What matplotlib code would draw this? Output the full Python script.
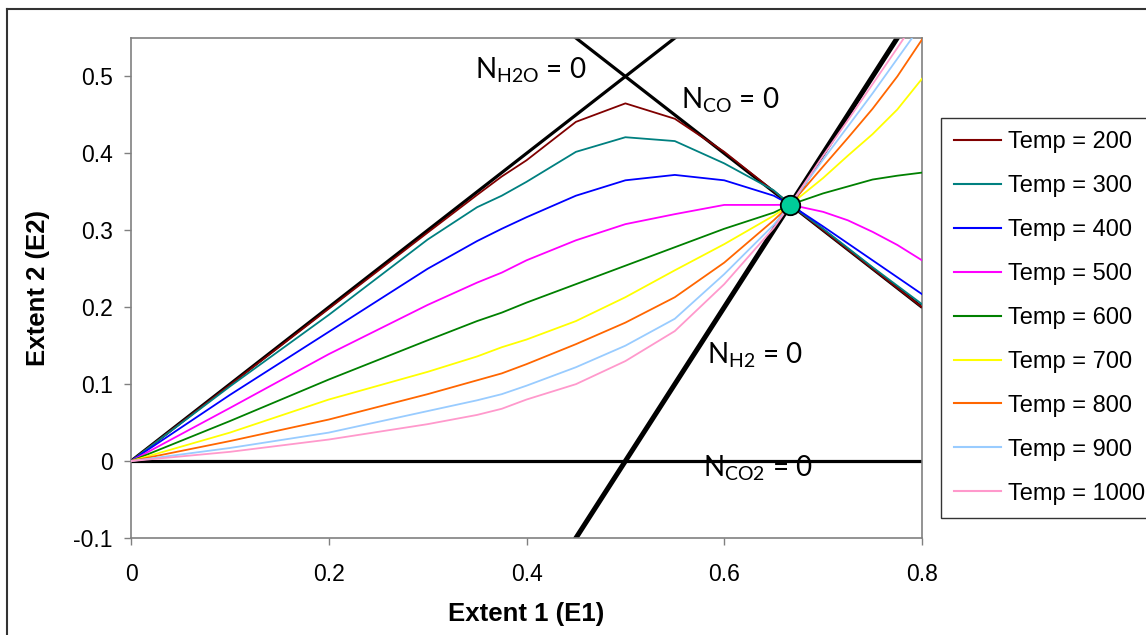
import numpy as np
import matplotlib
matplotlib.use('Agg')
import matplotlib.pyplot as plt
from matplotlib.lines import Line2D

plt.rcParams['font.family'] = ['Liberation Sans', 'DejaVu Sans']
plt.rcParams['mathtext.default'] = 'regular'

# extent 1 grid (E1)
e1 = [0, 0.1, 0.2, 0.3, 0.35, 0.375, 0.4, 0.45, 0.5, 0.55, 0.6, 0.65, 0.6667,
      0.7, 0.725, 0.75, 0.775, 0.8]

# extent 2 (E2) at each temperature
e2_200 = [0, 0.099, 0.198, 0.297, 0.346, 0.370, 0.391, 0.441, 0.465, 0.445, 0.402,
          0.351, 0.3333, 0.300, 0.275, 0.250, 0.225, 0.200]
e2_300 = [0, 0.097, 0.190, 0.288, 0.330, 0.345, 0.363, 0.402, 0.421, 0.416, 0.387,
          0.352, 0.3333, 0.302, 0.277, 0.252, 0.228, 0.204]
e2_400 = [0, 0.086, 0.168, 0.250, 0.286, 0.302, 0.317, 0.345, 0.365, 0.372, 0.365,
          0.345, 0.3333, 0.305, 0.283, 0.261, 0.239, 0.217]
e2_500 = [0, 0.069, 0.139, 0.203, 0.232, 0.245, 0.261, 0.287, 0.308, 0.321, 0.333,
          0.333, 0.3333, 0.324, 0.313, 0.298, 0.281, 0.261]
e2_600 = [0, 0.052, 0.106, 0.157, 0.182, 0.193, 0.206, 0.230, 0.254, 0.278, 0.302,
          0.323, 0.3333, 0.348, 0.357, 0.366, 0.371, 0.375]
e2_700 = [0, 0.037, 0.080, 0.116, 0.136, 0.148, 0.158, 0.182, 0.213, 0.248, 0.282,
          0.319, 0.3333, 0.368, 0.397, 0.425, 0.457, 0.497]
e2_800 = [0, 0.026, 0.054, 0.087, 0.105, 0.114, 0.126, 0.152, 0.180, 0.213, 0.258,
          0.313, 0.3333, 0.383, 0.420, 0.458, 0.500, 0.548]
e2_900 = [0, 0.017, 0.037, 0.065, 0.079, 0.087, 0.098, 0.122, 0.150, 0.185, 0.243,
          0.307, 0.3333, 0.392, 0.435, 0.478, 0.523, 0.568]
e2_1000 = [0, 0.012, 0.028, 0.048, 0.060, 0.068, 0.080, 0.100, 0.130, 0.169, 0.230,
           0.303, 0.3333, 0.397, 0.443, 0.490, 0.537, 0.585]

temps = [200, 300, 400, 500, 600, 700, 800, 900, 1000]
curves = [e2_200, e2_300, e2_400, e2_500, e2_600, e2_700, e2_800, e2_900, e2_1000]
colors = ['#800000', '#008080', '#0000FF', '#FF00FF', '#008000', '#FFFF00',
          '#FF6600', '#99CCFF', '#FF99CC']

# equilibrium point where all curves meet
eq_e1 = [2 / 3]
eq_e2 = [1 / 3]

fig = plt.figure(figsize=(11.46, 6.35), dpi=100)
ax = fig.add_axes([131 / 1146, 1 - 538 / 635, 791 / 1146, 500 / 635])

# species boundary lines
xb = np.array([0.0, 0.8])
ax.plot(xb, xb, color='black', lw=2.3, zorder=2)            # N_H2O = 0
ax.plot(xb, 1 - xb, color='black', lw=2.3, zorder=2)        # N_CO = 0
ax.plot(xb, 2 * xb - 1, color='black', lw=3.6, zorder=2)    # N_H2 = 0
ax.plot(xb, 0 * xb, color='black', lw=2.3, zorder=2)        # N_CO2 = 0

for t, c, col in zip(temps, curves, colors):
    ax.plot(e1, c, color=col, lw=1.3, label=f'Temp = {t}', zorder=3)

ax.plot(eq_e1, eq_e2, 'o', ms=14, color='#00CC99', mec='black', mew=1.3, zorder=5)

lab_kw = dict(fontsize=20, family=['Lato', 'DejaVu Sans'], ha='left', va='center', zorder=6)
ax.text(0.348, 0.508, r'N$_{\mathregular{H2O}}$ = 0', **lab_kw)
ax.text(0.556, 0.469, r'N$_{\mathregular{CO}}$ = 0', **lab_kw)
ax.text(0.583, 0.137, r'N$_{\mathregular{H2}}$ = 0', **lab_kw)
ax.text(0.579, -0.009, r'N$_{\mathregular{CO2}}$ = 0', **lab_kw)

ax.set_xlim(0, 0.8)
ax.set_ylim(-0.1, 0.55)
ax.set_xticks([0, 0.2, 0.4, 0.6, 0.8])
ax.set_xticklabels(['0', '0.2', '0.4', '0.6', '0.8'])
ax.set_yticks([-0.1, 0, 0.1, 0.2, 0.3, 0.4, 0.5])
ax.set_yticklabels(['-0.1', '0', '0.1', '0.2', '0.3', '0.4', '0.5'])
ax.tick_params(direction='out', length=5, width=1, color='#808080', labelsize=16.5)
ax.tick_params(axis='y', pad=8)
ax.tick_params(axis='x', pad=13)
for s in ax.spines.values():
    s.set_color('#808080')
    s.set_linewidth(1.2)

ax.set_xlabel('Extent 1 (E1)', fontsize=18.5, fontweight='bold', va='center')
ax.xaxis.set_label_coords(0.5, -(614 - 538) / 500)
ax.set_ylabel('Extent 2 (E2)', fontsize=18.5, fontweight='bold', va='center')
ax.yaxis.set_label_coords(-(131 - 38) / 791, 0.5)

leg = fig.legend(loc='upper left', bbox_to_anchor=(941 / 1146, 1 - 118 / 635),
                 fontsize=17, frameon=True, fancybox=False, handlelength=2.0,
                 handletextpad=0.3, labelspacing=0.93, borderpad=0.55,
                 borderaxespad=0)
leg.get_frame().set_edgecolor('black')
leg.get_frame().set_linewidth(1.0)
for h in leg.get_lines():
    h.set_linewidth(1.5)

# chart area border (cut off at right and bottom)
fig.add_artist(Line2D([7 / 1146, 1], [1 - 9 / 635, 1 - 9 / 635], color='#333333', lw=1.5))
fig.add_artist(Line2D([7 / 1146, 7 / 1146], [0, 1 - 9 / 635], color='#333333', lw=1.5))

fig.savefig('out.png', dpi=100)
